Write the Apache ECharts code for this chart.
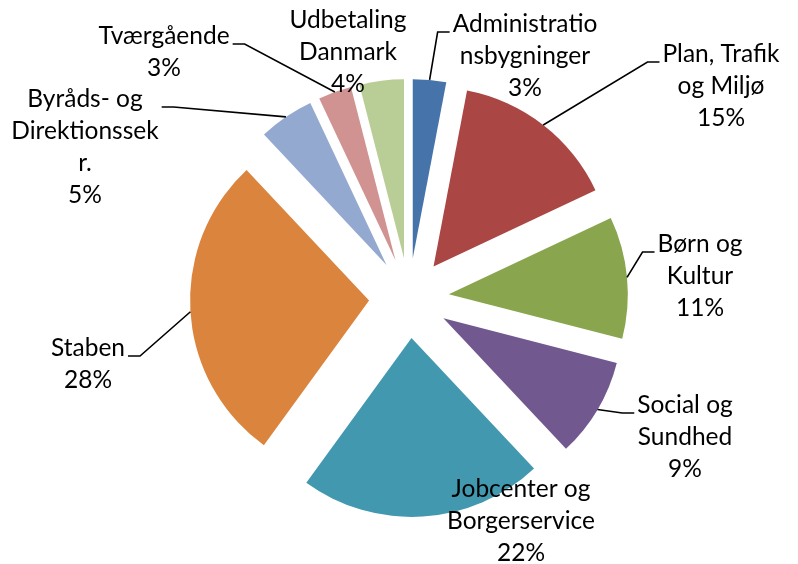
<!DOCTYPE html>
<html>
<head>
<meta charset="utf-8">
<script src="https://cdn.jsdelivr.net/npm/echarts@6/dist/echarts.min.js"></script>
<style>
  html, body { margin: 0; padding: 0; background: #fff; }
  #chart { width: 798px; height: 564px; }
</style>
</head>
<body>
<div id="chart"></div>
<script>
// labels keep the line breaks of the original chart
const categories = [
  'Administratio\nnsbygninger',
  'Plan, Trafik\nog Miljø',
  'Børn og\nKultur',
  'Social og\nSundhed',
  'Jobcenter og\nBorgerservice',
  'Staben',
  'Byråds- og\nDirektionssek\nr.',
  'Tværgående',
  'Udbetaling\nDanmark'
];
const shares = [3, 15, 11, 9, 22, 28, 5, 3, 4];
const colors = ['#4674AA', '#AA4643', '#89A54E', '#71588F', '#4198AF', '#DB843D', '#93A9CF', '#D19392', '#B9CD96'];
const showLine = [true, true, true, true, false, true, true, true, false];

// label block centres (px) and which side the leader line attaches to
const labelPos = [
  [525, 56], [721, 86], [700, 276], [685, 437], [521, 521],
  [88, 364], [85, 147], [164, 52], [348, 52]
];
const lineSide = ['left', 'left', 'left', 'left', null, 'right', 'right', 'right', null];

const CENTER = [409, 298];
const R = 179;
const EXPLODE = 40;
const LINE_H = 32;

const chart = echarts.init(document.getElementById('chart'));

const option = {
  animation: false,
  series: [
    {
      // exploded slices
      type: 'pie',
      center: CENTER,
      radius: R,
      startAngle: 90,
      selectedMode: 'multiple',
      selectedOffset: EXPLODE,
      silent: true,
      emphasis: { disabled: true },
      label: { show: false },
      labelLine: { show: false },
      data: categories.map((name, i) => ({
        name: name,
        value: shares[i],
        selected: true,
        itemStyle: { color: colors[i], borderWidth: 0 },
        select: { itemStyle: { color: colors[i], borderWidth: 0 } }
      }))
    },
    {
      // invisible ring at the exploded outer edge, only carries labels
      type: 'pie',
      center: CENTER,
      radius: R + EXPLODE,
      startAngle: 90,
      silent: true,
      z: 3,
      avoidLabelOverlap: false,
      emphasis: { disabled: true },
      itemStyle: { color: 'rgba(0,0,0,0)' },
      label: {
        show: true,
        position: 'outside',
        formatter: p => p.name + '\n' + p.value + '%',
        color: '#000',
        fontFamily: 'Lato',
        fontSize: 24.5,
        lineHeight: LINE_H,
        align: 'center'
      },
      labelLine: {
        show: true,
        length: 10,
        length2: 10,
        lineStyle: { color: '#000', width: 1.6 }
      },
      labelLayout: p => {
        const i = p.dataIndex;
        const cx = labelPos[i][0];
        const cy = labelPos[i][1];
        const res = { x: cx, y: cy, align: 'center', verticalAlign: 'middle' };
        if (lineSide[i] && p.labelLinePoints) {
          const w = p.labelRect.width;
          const h = p.labelRect.height;
          const baseY = cy - h / 2 + LINE_H / 2 + 8;
          const start = p.labelLinePoints[0];
          const edge = lineSide[i] === 'left' ? cx - w / 2 - 3 : cx + w / 2 + 3;
          const elbow = lineSide[i] === 'left' ? edge - 12 : edge + 12;
          res.labelLinePoints = [start, [elbow, baseY], [edge, baseY]];
        }
        return res;
      },
      data: categories.map((name, i) => ({
        name: name,
        value: shares[i],
        labelLine: { show: showLine[i] }
      }))
    }
  ]
};

chart.setOption(option);
</script>
</body>
</html>
